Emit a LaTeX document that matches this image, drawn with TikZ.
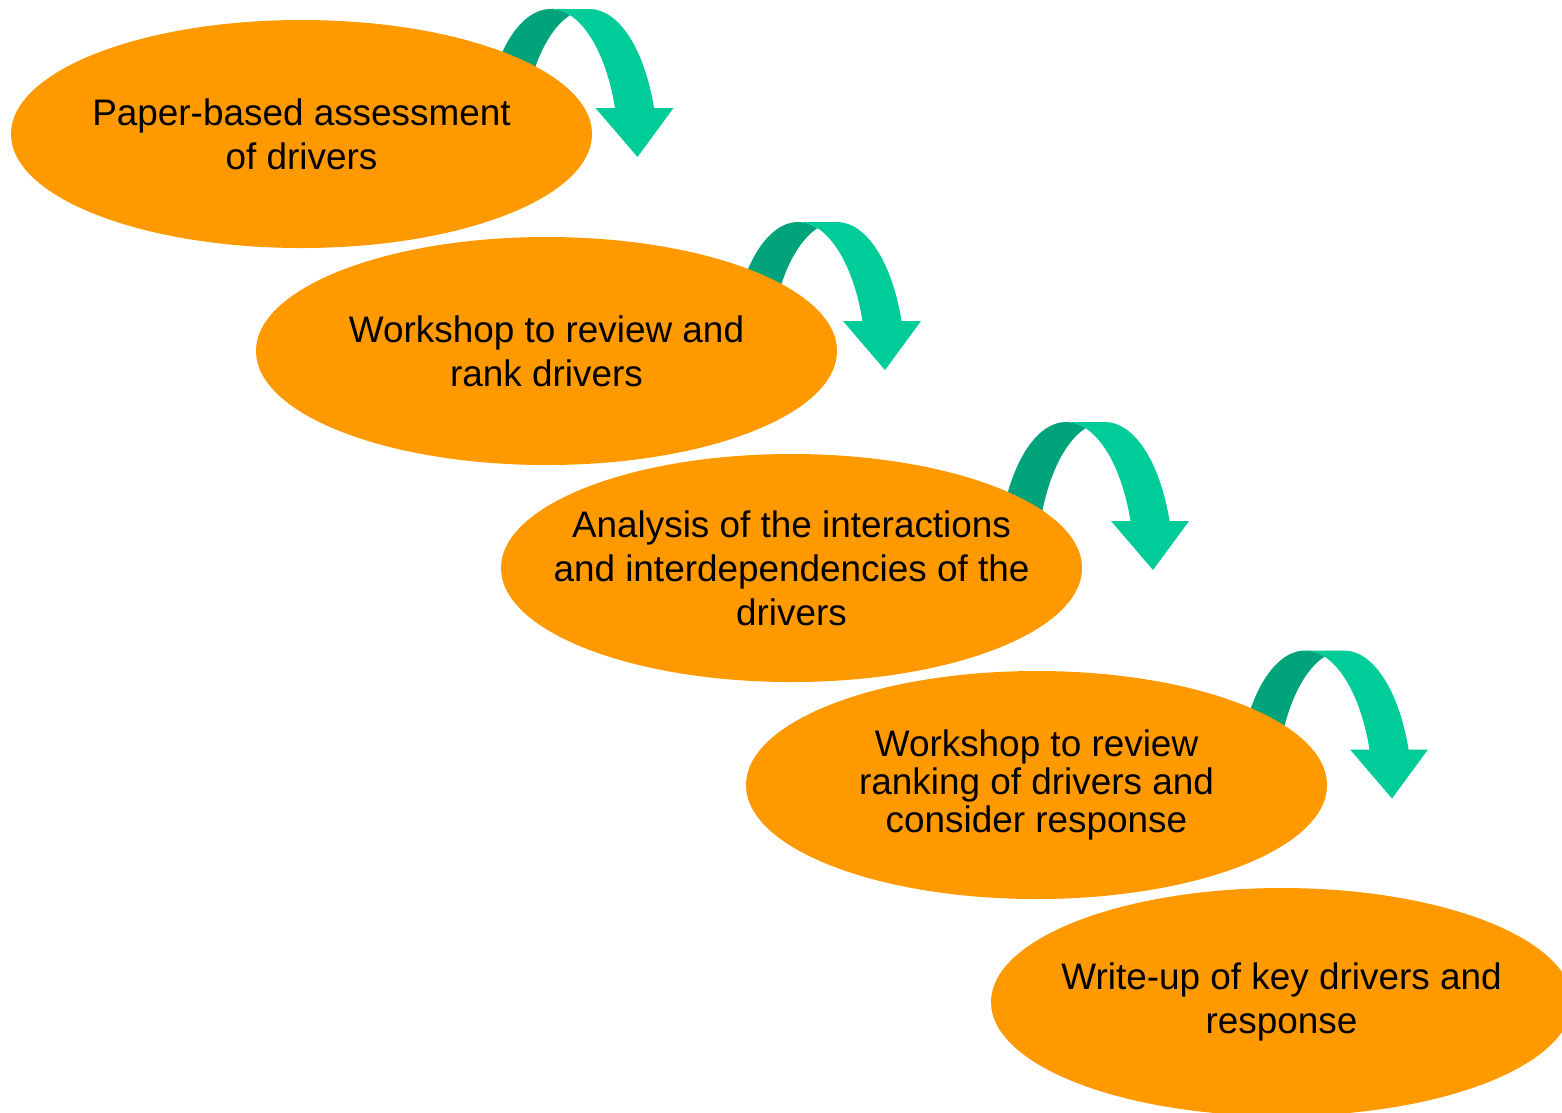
\documentclass[tikz,border=0pt]{standalone}
\usepackage{fontspec}
\setmainfont{Liberation Sans}
\usepackage{tikz}
\usetikzlibrary{shapes.geometric,calc,positioning,backgrounds}
\definecolor{stepfill}{RGB}{255,153,0}
\definecolor{arrowgreen}{RGB}{0,204,153}
\definecolor{arrowdark}{RGB}{0,163,122}
\tikzstyle{stepbox} = [ellipse, fill=stepfill, minimum width=11.62cm, minimum height=4.56cm, inner xsep=-2cm, inner ysep=0pt, align=center, font=\fontsize{21}{25}\selectfont]
\tikzset{
  pics/turn arrow/.style={code={
    % back of the band
    \fill[arrowdark] (-68.4,0) arc[start angle=180, end angle=73.4, x radius=68.4, y radius=148]
      arc[start angle=106.6, end angle=180, x radius=68.4, y radius=148] -- cycle;
    % front of the band with its head
    \fill[arrowgreen] (87,0) -- (45,49) -- (64.5,49)
      arc[start angle=19.33, end angle=90, x radius=68.4, y radius=148] -- (39,148)
      arc[start angle=90, end angle=19.33, x radius=68.4, y radius=148] -- (123,49) -- cycle;
  }}
}

\begin{document}
\begin{tikzpicture}[x=0.2mm,y=0.2mm]
            \useasboundingbox (0,0) rectangle (1562,-1112);

            \node[stepbox] (Paper) at (301.5,-134) {Paper-based assessment\\of drivers};
            \node[stepbox] (Review) [on grid, below right=4.34cm and 4.9cm of Paper] {Workshop to review and\\rank drivers};
            \node[stepbox] (Analysis) [on grid, below right=4.34cm and 4.9cm of Review] {Analysis of the interactions\\and interdependencies of the\\drivers};
            \node[stepbox, font=\fontsize{21}{21.6}\selectfont] (Ranking) [on grid, below right=4.34cm and 4.9cm of Analysis] {Workshop to review\\ranking of drivers and\\consider response};
            \node[stepbox] (Writeup) [on grid, below right=4.34cm and 4.9cm of Ranking] {Write-up of key drivers and\\response};

            \begin{scope}[on background layer]
                \pic at ($(Paper)+(249,-23)$) {turn arrow};
                \pic at ($(Review)+(251.5,-19)$) {turn arrow};
                \pic at ($(Analysis)+(274.5,-2)$) {turn arrow};
                \pic at ($(Ranking)+(268.5,-13.5)$) {turn arrow};
            \end{scope}
        \end{tikzpicture}
\end{document}
